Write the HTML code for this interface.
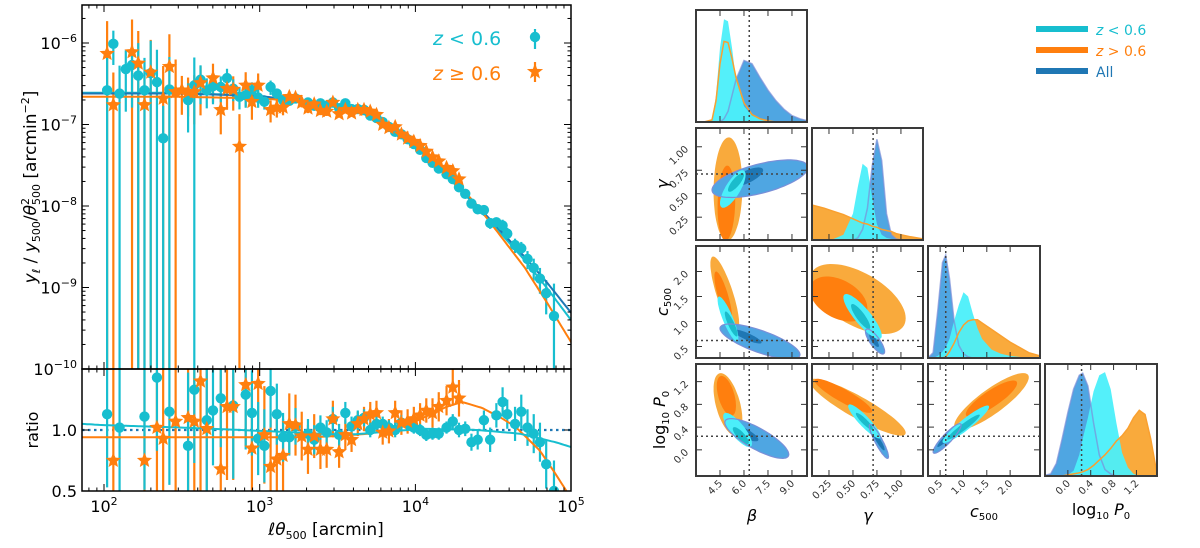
<!DOCTYPE html>
<html><head><meta charset="utf-8"><style>
html,body{margin:0;padding:0;background:#fff;width:1200px;height:548px;overflow:hidden;}
svg{display:block;font-family:"DejaVu Sans","Liberation Sans",sans-serif;overflow:hidden;}
</style></head><body>
<svg id="fig" width="1200" height="548" viewBox="0 0 1200 548" xmlns="http://www.w3.org/2000/svg">
<defs>
<clipPath id="clipMain"><rect x="82" y="5" width="489" height="364"/></clipPath>
<clipPath id="clipRatio"><rect x="82" y="369" width="489" height="122"/></clipPath>
</defs>
<g id="left"></g>
<g id="corner"></g>
</svg>
<script>
// ===== Left chart data =====
const fitLx = [1.86,2.5,3.0,3.3,3.5,3.7,4.0,4.2,4.4,4.7,4.85,5.0];
const fitAll = [-6.62,-6.62,-6.65,-6.72,-6.78,-6.88,-7.26,-7.62,-8.0,-8.62,-8.95,-9.31];
const fitCyan = [-6.61,-6.61,-6.65,-6.73,-6.79,-6.89,-7.27,-7.63,-8.02,-8.66,-9.02,-9.40];
const fitOrange = [-6.66,-6.66,-6.68,-6.72,-6.77,-6.85,-7.20,-7.58,-8.0,-8.75,-9.20,-9.67];

const cyanLx = [2.02,2.06,2.10,2.14,2.18,2.22,2.26,2.30,2.34,2.38,2.42,2.54,2.58,2.62,2.66,2.70,2.75,2.79,2.83,2.87,2.91,2.95,2.99,3.03,3.07,3.11,
3.15,3.19,3.23,3.31,3.35,3.39,3.43,3.47,3.51,3.55,3.59,3.63,3.67,3.71,3.75,3.79,3.83,3.87,3.91,3.95,3.99,4.03,4.07,4.11,4.15,4.20,4.24,4.28,4.32,4.36,4.40,4.44,4.48,4.52,4.56,4.59,4.64,4.68,4.72,4.76,4.80,4.84,4.89];
const cyanLy = [-6.58,-6.01,-6.62,-6.32,-6.27,-6.40,-6.58,-6.37,-6.48,-7.17,-6.57,-6.70,-6.52,-6.45,-6.58,-6.53,-6.54,-6.43,-6.56,-6.66,-6.64,-6.58,-6.67,-6.72,-6.54,-6.62,
-6.70,-6.71,-6.68,-6.73,-6.77,-6.74,-6.77,-6.73,-6.80,-6.74,-6.81,-6.81,-6.82,-6.89,-6.92,-6.97,-7.03,-7.09,-7.12,-7.18,-7.24,-7.31,-7.41,-7.47,-7.54,-7.61,-7.67,-7.77,-7.85,-7.97,-8.04,-8.05,-8.21,-8.20,-8.24,-8.34,-8.48,-8.52,-8.65,-8.76,-8.89,-9.07,-9.35];
const cyanSig = [1.5,0.45,1.2,0.7,0.7,1.5,1.5,1.5,1.5,1.5,1.5,0.6,1.2,0.5,0.4,0.4,0.35,0.3,0.3,0.3,0.3,0.25,0.25,0.2,0.2,0.15,
0.12,0.12,0.1,0.1,0.1,0.1,0.08,0.08,0.08,0.08,0.07,0.07,0.07,0.07,0.07,0.07,0.07,0.07,0.07,0.07,0.07,0.08,0.08,0.08,0.08,0.1,0.1,0.1,0.12,0.12,0.12,0.15,0.15,0.15,0.18,0.18,0.2,0.2,0.25,0.3,0.35,0.45,1.5];

const orangeLx = [2.02,2.06,2.18,2.22,2.26,2.30,2.38,2.42,2.46,2.50,2.54,2.58,2.62,2.70,2.75,2.79,2.83,2.87,2.91,2.95,2.99,3.07,3.11,3.15,
3.19,3.23,3.27,3.31,3.35,3.39,3.43,3.47,3.51,3.55,3.59,3.63,3.67,3.71,3.75,3.79,3.83,3.87,3.91,3.95,3.99,4.03,4.07,4.11,4.15,4.20,4.24,4.28];
const orangeLy = [-6.13,-6.76,-6.11,-6.25,-6.76,-6.36,-6.68,-6.29,-6.60,-6.58,-6.60,-6.60,-6.49,-6.43,-6.82,-6.56,-6.57,-7.27,-6.52,-6.72,-6.52,-6.82,-6.79,-6.79,
-6.66,-6.67,-6.73,-6.80,-6.75,-6.83,-6.84,-6.73,-6.87,-6.82,-6.86,-6.82,-6.82,-6.84,-6.88,-7.00,-7.04,-7.03,-7.12,-7.17,-7.21,-7.26,-7.33,-7.40,-7.45,-7.53,-7.57,-7.67];
const orangeSig = [1.5,1.5,1.5,1.5,1.5,1.5,1.5,1.5,1.5,0.5,0.5,0.6,0.6,0.5,0.5,0.45,0.45,1.5,0.45,0.4,0.4,0.3,0.25,0.2,
0.15,0.15,0.13,0.13,0.12,0.12,0.12,0.1,0.1,0.1,0.1,0.08,0.08,0.08,0.08,0.08,0.08,0.08,0.08,0.08,0.08,0.08,0.1,0.1,0.1,0.1,0.12,0.12];

const rCyanLx = [2.02,2.10,2.26,2.34,2.42,2.54,2.58,2.66,2.70,2.75,2.83,2.91,2.95,2.99,3.03,3.07,3.11,3.15,3.19,3.23,3.31,3.35,3.39,3.43,3.47,3.51,3.55,3.59,3.63,3.67,3.71,3.75,3.79,3.83,3.87,3.91,3.95,3.99,4.03,4.07,4.11,4.15,4.20,4.24,4.28,4.32,4.36,4.40,4.44,4.48,4.52,4.56,4.59,4.64,4.68,4.72,4.76,4.80,4.84,4.89];
const rCyan = [1.13,1.02,1.11,1.43,1.15,0.87,1.33,1.08,1.16,1.26,1.20,1.29,1.14,0.93,0.87,1.32,1.13,0.94,0.94,1.03,0.97,0.92,1.02,0.98,1.09,0.96,1.14,1.03,1.08,1.10,1.00,1.05,1.05,1.02,1.00,1.06,1.05,1.02,1.00,0.96,0.97,0.97,1.02,1.07,1.00,1.01,0.90,0.92,1.08,0.92,1.12,1.23,1.13,1.05,1.15,1.02,0.97,0.90,0.72,0.50];
const rCyanErr = [0.6,0.6,0.6,0.6,0.6,0.6,0.6,0.6,0.45,0.4,0.6,0.45,0.35,0.3,0.3,0.3,0.25,0.2,0.15,0.15,0.12,0.12,0.1,0.1,0.1,0.09,0.09,0.08,0.08,0.07,0.06,0.06,0.06,0.06,0.06,0.06,0.05,0.05,0.05,0.05,0.05,0.05,0.05,0.06,0.06,0.06,0.07,0.08,0.08,0.1,0.1,0.12,0.12,0.14,0.14,0.15,0.16,0.16,0.2,0.25];

const rOrangeLx = [2.06,2.26,2.34,2.38,2.46,2.54,2.58,2.62,2.66,2.75,2.79,2.83,2.91,2.95,2.99,3.03,3.07,3.11,3.15,3.19,3.23,3.27,3.31,3.35,3.39,3.43,3.47,3.51,3.55,3.59,3.63,3.67,3.71,3.75,3.79,3.83,3.87,3.91,3.95,3.99,4.03,4.07,4.11,4.15,4.20,4.24,4.28];
const rOrange = [0.75,0.75,1.02,0.93,1.07,1.10,1.07,1.40,1.01,0.68,1.19,1.19,1.37,0.85,1.38,0.96,0.70,0.76,0.79,1.05,1.04,0.95,0.84,0.95,0.84,0.84,1.09,0.82,0.96,0.92,1.05,1.09,1.13,1.14,0.98,0.99,1.14,1.06,1.07,1.09,1.12,1.16,1.14,1.19,1.24,1.35,1.26];
const rOrangeErr = [1,1,1,1,1,1,1,1,1,1,0.6,0.6,0.5,0.5,0.45,0.4,0.4,0.35,0.3,0.25,0.25,0.2,0.2,0.18,0.16,0.15,0.15,0.13,0.12,0.1,0.1,0.1,0.1,0.1,0.1,0.1,0.1,0.1,0.1,0.1,0.1,0.1,0.12,0.12,0.12,0.15,0.15];

const rFitCyanLx = [1.86,2.0,2.5,3.06,3.56,4.05,4.4,4.67,4.8,4.9,5.0];
const rFitCyan = [1.05,1.04,1.02,0.99,0.96,1.01,1.0,0.97,0.93,0.9,0.86];
const rFitOrangeLx = [1.86,2.5,3.0,3.3,3.5,3.7,3.9,4.0,4.1,4.2,4.3,4.43,4.55,4.64,4.72,4.8,4.9,4.97,5.0];
const rFitOrange = [0.94,0.94,0.94,0.94,0.95,0.97,1.02,1.07,1.13,1.19,1.23,1.18,1.1,1.03,0.93,0.83,0.64,0.5,0.45];

const xTickExp = [2,3,4,5];
const yTickExp = [-6,-7,-8,-9,-10];
const rTicks = [0.5,1.0];

// ===== Corner data =====
const betaGrid = [3.0,3.5,4.0,4.25,4.5,4.75,5.0,5.25,5.5,6.0,6.5,7.0,7.5,8.0,8.5,9.0,9.5,10];
const betaCyan = [0,0,0.02,0.25,0.7,0.97,0.95,0.7,0.4,0.15,0.06,0.03,0.01,0,0,0,0,0];
const betaOrange = [0,0,0.02,0.2,0.55,0.76,0.75,0.6,0.42,0.18,0.07,0.03,0.01,0,0,0,0,0];
const betaBlue = [0,0,0,0,0,0.03,0.1,0.25,0.4,0.58,0.55,0.42,0.3,0.2,0.12,0.06,0.03,0.01];
const gammaGrid = [0.07,0.2,0.3,0.4,0.5,0.55,0.6,0.65,0.7,0.75,0.8,0.85,0.9,0.95,1.0,1.1,1.23];
const gammaCyan = [0,0,0.01,0.05,0.25,0.5,0.72,0.68,0.4,0.15,0.05,0.02,0.01,0,0,0,0];
const gammaBlue = [0,0,0,0,0,0.02,0.1,0.3,0.7,0.95,0.75,0.25,0.05,0.01,0,0,0];
const gammaOrange = [0.33,0.3,0.27,0.24,0.2,0.18,0.16,0.15,0.13,0.12,0.1,0.09,0.08,0.06,0.05,0.03,0.01];
const cGrid = [0.24,0.35,0.45,0.55,0.62,0.7,0.8,0.9,1.0,1.1,1.2,1.3,1.4,1.6,1.8,2.0,2.2,2.4,2.64];
const cBlue = [0,0.05,0.45,0.9,0.97,0.75,0.35,0.12,0.04,0.01,0,0,0,0,0,0,0,0,0];
const cCyan = [0,0,0.02,0.06,0.1,0.18,0.35,0.5,0.62,0.58,0.42,0.28,0.18,0.08,0.04,0.02,0.01,0,0];
const cOrange = [0,0,0,0,0.01,0.06,0.14,0.24,0.31,0.35,0.36,0.36,0.33,0.27,0.21,0.15,0.1,0.05,0.02];
const pGrid = [-0.46,-0.3,-0.2,-0.1,0,0.1,0.2,0.26,0.35,0.45,0.55,0.65,0.75,0.85,0.95,1.05,1.15,1.25,1.35,1.45,1.56];
const pBlue = [0,0.02,0.12,0.35,0.6,0.82,0.95,0.97,0.85,0.5,0.2,0.06,0.02,0,0,0,0,0,0,0,0];
const pCyan = [0,0,0,0,0.01,0.05,0.2,0.35,0.55,0.8,0.95,0.98,0.82,0.5,0.22,0.08,0.02,0,0,0,0];
const pOrange = [0,0,0,0,0.01,0.02,0.03,0.04,0.06,0.1,0.15,0.2,0.26,0.33,0.38,0.45,0.55,0.62,0.58,0.35,0.02];

// contour params: [cx, sx, cy, sy, rho]
const ctBG = {orange:[[5.0,0.9,0.55,0.55,0.05],[4.9,0.55,0.4,0.4,0.1]], blue:[[7.0,3.0,0.66,0.2,0.6],[6.2,1.0,0.68,0.1,0.7]], cyan:[[5.3,0.8,0.55,0.2,0.75],[5.5,0.5,0.62,0.1,0.8]]};
const ctBC = {orange:[[4.8,0.9,1.55,0.75,-0.8],[4.7,0.55,1.5,0.5,-0.8]], blue:[[7.0,2.5,0.6,0.35,-0.75],[6.2,0.9,0.7,0.14,-0.85]], cyan:[[5.0,0.65,1.05,0.45,-0.85],[5.2,0.4,0.95,0.25,-0.85]]};
const ctBP = {orange:[[5.0,0.9,0.8,0.55,-0.5],[4.9,0.6,0.95,0.35,-0.5]], blue:[[6.8,2.0,0.2,0.35,-0.8],[6.0,0.9,0.3,0.15,-0.8]], cyan:[[5.6,0.9,0.35,0.3,-0.8],[5.8,0.5,0.25,0.15,-0.8]]};
const ctGC = {orange:[[0.55,0.5,1.45,0.7,-0.55],[0.35,0.3,1.45,0.45,-0.4]], blue:[[0.73,0.1,0.6,0.25,-0.8],[0.72,0.05,0.62,0.13,-0.8]], cyan:[[0.6,0.2,1.1,0.45,-0.85],[0.58,0.1,1.1,0.25,-0.85]]};
const ctGP = {orange:[[0.55,0.5,0.75,0.5,-0.9],[0.4,0.3,0.95,0.3,-0.9]], blue:[[0.77,0.1,0.15,0.3,-0.9],[0.77,0.06,0.15,0.16,-0.9]], cyan:[[0.62,0.17,0.5,0.3,-0.9],[0.62,0.09,0.5,0.15,-0.9]]};
const ctCP = {orange:[[1.6,0.8,0.85,0.5,0.85],[1.6,0.55,0.9,0.32,0.85]], blue:[[0.65,0.3,0.2,0.26,0.9],[0.62,0.18,0.2,0.15,0.93]], cyan:[[1.05,0.5,0.45,0.33,0.93],[1.0,0.35,0.4,0.22,0.95]]};

const truthBeta = 6.33, truthGamma = 0.71, truthC = 0.62, truthP = 0.24;
const betaTicks = [4.5,6.0,7.5,9.0];
const gammaTicks = [0.25,0.5,0.75,1.0];
const cTicks = [0.5,1.0,1.5,2.0];
const pTicks = [0.0,0.4,0.8,1.2];

// ===== helpers =====
const NS = "http://www.w3.org/2000/svg";
function mk(tag, attrs, parent){ const e=document.createElementNS(NS,tag); for(const k in attrs) e.setAttribute(k,attrs[k]); parent.appendChild(e); return e; }
const CY="#17becf", OR="#ff7f0e", BL="#1f77b4";
const L=document.getElementById('left');

const X = lx => 104 + (lx-2)*155.7;
const Ym = ly => 43 + (-6-ly)*81.5;
const Yr = r => 430 - (r-1)*122;
function interp(xs, ys, x){ if(x<=xs[0]) return ys[0]; for(let i=1;i<xs.length;i++){ if(x<=xs[i]){ const t=(x-xs[i-1])/(xs[i]-xs[i-1]); return ys[i-1]+t*(ys[i]-ys[i-1]); } } return ys[ys.length-1]; }
function smoothPath(xs, ys, fx, fy){ let d=""; const x0=xs[0], x1=xs[xs.length-1]; for(let k=0;k<=200;k++){ const x=x0+(x1-x0)*k/200; d+=(k?"L":"M")+fx(x).toFixed(1)+","+fy(interp(xs,ys,x)).toFixed(1); } return d; }

function star(cx,cy,r,parent){ let pts=[]; for(let i=0;i<10;i++){ const a=-Math.PI/2+i*Math.PI/5; const rr=i%2?r*0.45:r; pts.push((cx+rr*Math.cos(a)).toFixed(1)+","+(cy+rr*Math.sin(a)).toFixed(1)); } return mk('polygon',{points:pts.join(' '),fill:OR},parent); }

const gMain = mk('g',{'clip-path':'url(#clipMain)'},L);
 
function mainErr(lxs,lys,sig,col,name){
  for(let i=0;i<lxs.length;i++){
    const v=Math.pow(10,lys[i]); const s=sig[i]||0.2;
    const top=Math.log10(v*(1+s)); const bot = s>=1? -10 : Math.log10(v*(1-s));
    const e=mk('line',{x1:X(lxs[i]),x2:X(lxs[i]),y1:Ym(top),y2:Ym(bot),stroke:col,'stroke-width':2.2},gMain);
    
    
  }
}
mainErr(orangeLx,orangeLy,orangeSig,OR,'error-bar-high-z');
mainErr(cyanLx,cyanLy,cyanSig,CY,'error-bar-low-z');
[[fitCyan,CY,'fit-low-z'],[fitAll,BL,'fit-all'],[fitOrange,OR,'fit-high-z']].forEach(([ys,c,n])=>{
  const p=mk('path',{d:smoothPath(fitLx,ys,X,Ym),fill:'none',stroke:c,'stroke-width':2},gMain);
  
  
});
for(let i=0;i<cyanLx.length;i++){ const c=mk('circle',{cx:X(cyanLx[i]),cy:Ym(cyanLy[i]),r:5.2,fill:CY},gMain);
  
   }
for(let i=0;i<orangeLx.length;i++){ const s=star(X(orangeLx[i]),Ym(orangeLy[i]),8,gMain);
  
   }

const gR = mk('g',{'clip-path':'url(#clipRatio)'},L);
 
mk('line',{x1:82,x2:571,y1:Yr(1),y2:Yr(1),stroke:BL,'stroke-width':2.2,'stroke-dasharray':'2.5,3.5'},gR);
function ratioErr(lxs,rs,err,col,name){
  for(let i=0;i<lxs.length;i++){ const e=err[i]||0.1;
    const l=mk('line',{x1:X(lxs[i]),x2:X(lxs[i]),y1:Yr(Math.min(rs[i]+e,1.52)),y2:Yr(Math.max(rs[i]-e,0.48)),stroke:col,'stroke-width':2.2},gR);
    
     }
}
ratioErr(rOrangeLx,rOrange,rOrangeErr,OR,'ratio-error-high-z');
ratioErr(rCyanLx,rCyan,rCyanErr,CY,'ratio-error-low-z');
let rp=mk('path',{d:smoothPath(rFitOrangeLx,rFitOrange,X,Yr),fill:'none',stroke:OR,'stroke-width':2},gR);
 
rp=mk('path',{d:smoothPath(rFitCyanLx,rFitCyan,X,Yr),fill:'none',stroke:CY,'stroke-width':2},gR);
 
for(let i=0;i<rCyanLx.length;i++){ const c=mk('circle',{cx:X(rCyanLx[i]),cy:Yr(rCyan[i]),r:5.2,fill:CY},gR);
  
   }
for(let i=0;i<rOrangeLx.length;i++){ const s=star(X(rOrangeLx[i]),Yr(rOrange[i]),8,gR);
  
   }

const fr1=mk('rect',{x:82,y:5,width:489,height:364,fill:'none',stroke:'#000','stroke-width':1.5},L);
 
const fr2=mk('rect',{x:82,y:369,width:489,height:122,fill:'none',stroke:'#000','stroke-width':1.5},L);
 
const tk=mk('g',{stroke:'#000','stroke-width':1},L);
for(let d=1; d<=5; d++){ for(let m=1;m<10;m++){ const lx=d+Math.log10(m); const x=X(lx); if(x<82||x>571) continue; const len=m==1?7:3.5;
  [[5,5+len],[369,369-len],[369,369+len],[491,491-len]].forEach(([a,b])=>mk('line',{x1:x,x2:x,y1:a,y2:b},tk)); } }
for(let d=-10; d<=-6; d++){ for(let m=1;m<10;m++){ const ly=d+Math.log10(m); const y=Ym(ly); if(y<5||y>369) continue; const len=m==1?7:3.5;
  mk('line',{x1:82,x2:82+len,y1:y,y2:y},tk); mk('line',{x1:571,x2:571-len,y1:y,y2:y},tk);} }
rTicks.concat([1.5]).forEach(r=>{ mk('line',{x1:82,x2:89,y1:Yr(r),y2:Yr(r)},tk); mk('line',{x1:571,x2:564,y1:Yr(r),y2:Yr(r)},tk); });
xTickExp.forEach(e=>{ const t=mk('text',{x:X(e),y:512,'text-anchor':'middle','font-size':16},L); t.innerHTML='10<tspan dy="-7" font-size="11">'+e+'</tspan>';
    });
yTickExp.forEach(e=>{ const t=mk('text',{x:77,y:Ym(e)+6,'text-anchor':'end','font-size':16},L); t.innerHTML='10<tspan dy="-7" font-size="11">−'+(-e)+'</tspan>';
    });
rTicks.forEach(r=>{ const t=mk('text',{x:77,y:Yr(r)+6,'text-anchor':'end','font-size':16},L); t.textContent=r.toFixed(1);
    });
</script>
<script>
(function(){
const L=document.getElementById('left');
L.insertAdjacentHTML('beforeend',
 '<text transform="translate(36,187) rotate(-90)" text-anchor="middle" font-size="17"><tspan font-style="italic">y</tspan><tspan font-size="11" dy="4" font-style="italic">ℓ</tspan><tspan dy="-4"> / </tspan><tspan font-style="italic">y</tspan><tspan font-size="11" dy="4">500</tspan><tspan dy="-4">/</tspan><tspan font-style="italic">θ</tspan><tspan font-size="11" dy="-7">2</tspan><tspan font-size="11" dx="-7" dy="11">500</tspan><tspan dy="-4"> [arcmin</tspan><tspan font-size="11" dy="-7">−2</tspan><tspan dy="7">]</tspan></text>'+
 '<text transform="translate(38,430) rotate(-90)" text-anchor="middle" font-size="16">ratio</text>'+
 '<text x="326" y="535" text-anchor="middle" font-size="17"><tspan font-style="italic">ℓθ</tspan><tspan font-size="11" dy="4">500</tspan><tspan dy="-4"> [arcmin]</tspan></text>'+
 '<g>'+
 '<text x="433" y="45" font-size="19" fill="#17becf"><tspan font-style="italic">z</tspan> &lt; 0.6</text>'+
 '<line x1="535" x2="535" y1="29" y2="49" stroke="#17becf" stroke-width="2.2"/><circle cx="535" cy="37" r="5.2" fill="#17becf"/>'+
 '<text x="433" y="80" font-size="19" fill="#ff7f0e"><tspan font-style="italic">z</tspan> ≥ 0.6</text>'+
 '<line x1="535" x2="535" y1="62" y2="82" stroke="#ff7f0e" stroke-width="2.2"/><polygon points="535,63 537.1,68.9 543.1,69.1 538.4,72.8 540,78.5 535,75.2 530,78.5 531.6,72.8 526.9,69.1 532.9,68.9" fill="#ff7f0e"/>'+
 '</g>');
})();
</script>
<script>
(function(){
const C=document.getElementById('corner'); const NS="http://www.w3.org/2000/svg";
function mk(tag, attrs, parent){ const e=document.createElementNS(NS,tag); for(const k in attrs) e.setAttribute(k,attrs[k]); parent.appendChild(e); return e; }
const cols=[[696,807],[812,923],[928,1040],[1045,1157]];
const rows=[[10,122],[128,240],[246,358],[364,476]];
const rng=[[3.0,9.94],[0.073,1.23],[0.24,2.64],[-0.40,1.56]];
const rngY=[null,[0.007,1.2],[0.27,2.51],[-0.46,1.51]];
const fx=(i,v)=>cols[i][0]+(v-rng[i][0])/(rng[i][1]-rng[i][0])*(cols[i][1]-cols[i][0]);
const fy=(j,v)=>rows[j][1]-(v-rngY[j][0])/(rngY[j][1]-rngY[j][0])*(rows[j][1]-rows[j][0]);
const LC={cyan:['#4beffa','#1bbccc'],orange:['#f9aa3c','#ff7f0e'],blue:['#4fa6e2','#1f77b4']};
const defs=document.querySelector('defs');
for(let i=0;i<4;i++) for(let j=0;j<4;j++){ const cp=mk('clipPath',{id:'cp'+i+j},defs); mk('rect',{x:cols[i][0],y:rows[j][0],width:cols[i][1]-cols[i][0],height:rows[j][1]-rows[j][0]},cp); }

const marg=[[betaGrid,betaBlue,betaCyan,betaOrange],[gammaGrid,gammaBlue,gammaCyan,gammaOrange],[cGrid,cBlue,cCyan,cOrange],[pGrid,pBlue,pCyan,pOrange]];
const truths=[truthBeta,truthGamma,truthC,truthP];
function margPath(i,g,v,close){ const b=rows[i][1], h=rows[i][1]-rows[i][0]-6; let d=''; g.forEach((x,k)=>{ d+=(k?'L':'M')+fx(i,x).toFixed(1)+','+(b-v[k]*h).toFixed(1); }); if(close) d+='L'+fx(i,g[g.length-1])+','+b+'L'+fx(i,g[0])+','+b+'Z'; return d; }
for(let i=0;i<4;i++){
  const [g,b,c,o]=marg[i];
  const grp=mk('g',{'clip-path':'url(#cp'+i+i+')'},C);
   
  let p;
  if(i>0){ p=mk('path',{d:margPath(i,g,o,true),fill:LC.orange[0]},grp);   }
  p=mk('path',{d:margPath(i,g,b,true),fill:LC.blue[0]},grp);  
  p=mk('path',{d:margPath(i,g,c,true),fill:LC.cyan[0],'fill-opacity':0.95},grp);  
  p=mk('path',{d:margPath(i,g,b,false),fill:'none',stroke:'#7a8fd8','stroke-width':1.5,'stroke-opacity':0.7},grp);  
  p=mk('path',{d:margPath(i,g,o,false),fill:'none',stroke:'#f9a030','stroke-width':1.5},grp);  
  const t=mk('line',{x1:fx(i,truths[i]),x2:fx(i,truths[i]),y1:rows[i][0],y2:rows[i][1],stroke:'#444','stroke-width':1.5,'stroke-dasharray':'2,3'},grp);
   
}
const pairs=[[0,1,ctBG],[0,2,ctBC],[0,3,ctBP],[1,2,ctGC],[1,3,ctGP],[2,3,ctCP]];
function ell(i,j,p){ const [cx,sx,cy,sy,rho]=p; let d=''; for(let k=0;k<=72;k++){ const t=k/72*2*Math.PI; const x=cx+sx*Math.cos(t); const y=cy+sy*(rho*Math.cos(t)+Math.sqrt(1-rho*rho)*Math.sin(t)); d+=(k?'L':'M')+fx(i,x).toFixed(1)+','+fy(j,y).toFixed(1);} return d+'Z'; }
pairs.forEach(([i,j,ct])=>{
  const grp=mk('g',{'clip-path':'url(#cp'+i+j+')'},C);
   
  ['orange','blue','cyan'].forEach(k=>{
    let p=mk('path',{d:ell(i,j,ct[k][0]),fill:LC[k][0]},grp);  
    p=mk('path',{d:ell(i,j,ct[k][1]),fill:LC[k][1]},grp);  
  });
  let p=mk('path',{d:ell(i,j,ct.blue[0]),fill:'none',stroke:'#7a8fd8','stroke-width':1.2},grp);
   
  mk('line',{x1:fx(i,truths[i]),x2:fx(i,truths[i]),y1:rows[j][0],y2:rows[j][1],stroke:'#444','stroke-width':1.5,'stroke-dasharray':'2,3'},grp);
  mk('line',{x1:cols[i][0],x2:cols[i][1],y1:fy(j,truths[j]),y2:fy(j,truths[j]),stroke:'#444','stroke-width':1.5,'stroke-dasharray':'2,3'},grp);
});
const tickSets=[betaTicks,gammaTicks,cTicks,pTicks];
for(let j=0;j<4;j++) for(let i=0;i<=j;i++){
  const r=mk('rect',{x:cols[i][0],y:rows[j][0],width:cols[i][1]-cols[i][0],height:rows[j][1]-rows[j][0],fill:'none',stroke:'#3a3a3a','stroke-width':2},C);
   
  tickSets[i].forEach(v=>{ const x=fx(i,v); mk('line',{x1:x,x2:x,y1:rows[j][1],y2:rows[j][1]-6,stroke:'#333'},C); mk('line',{x1:x,x2:x,y1:rows[j][0],y2:rows[j][0]+6,stroke:'#333'},C); });
  if(j>0 && i<j) tickSets[j].forEach(v=>{ const y=fy(j,v); mk('line',{x1:cols[i][0],x2:cols[i][0]+6,y1:y,y2:y,stroke:'#333'},C); mk('line',{x1:cols[i][1],x2:cols[i][1]-6,y1:y,y2:y,stroke:'#333'},C); });
}
const fmt=[v=>v.toFixed(1),v=>v.toFixed(2),v=>v.toFixed(1),v=>v.toFixed(1)];
for(let i=0;i<4;i++) tickSets[i].forEach(v=>{ const x=fx(i,v); const t=mk('text',{x:x+3,y:484,'text-anchor':'end','font-size':10,fill:'#333',transform:'rotate(-45 '+(x+3)+' 484)'},C); t.textContent=fmt[i](v);
    });
for(let j=1;j<4;j++) tickSets[j].forEach(v=>{ const y=fy(j,v); const t=mk('text',{x:689,y:y+3,'text-anchor':'end','font-size':10,fill:'#333',transform:'rotate(-45 689 '+(y+3)+')'},C); t.textContent=fmt[j](v);
    });
C.insertAdjacentHTML('beforeend',
 '<text x="752" y="521" text-anchor="middle" font-size="16" font-style="italic">β</text>'+
 '<text x="868" y="521" text-anchor="middle" font-size="16" font-style="italic">γ</text>'+
 '<text x="984" y="517" text-anchor="middle" font-size="16"><tspan font-style="italic">c</tspan><tspan font-size="10" dy="3">500</tspan></text>'+
 '<text x="1101" y="515" text-anchor="middle" font-size="16">log<tspan font-size="10" dy="4">10</tspan><tspan dy="-4" font-style="italic"> P</tspan><tspan font-size="10" dy="4">0</tspan></text>'+
 '<text transform="translate(668,184) rotate(-90)" text-anchor="middle" font-size="16" font-style="italic">γ</text>'+
 '<text transform="translate(668,302) rotate(-90)" text-anchor="middle" font-size="16"><tspan font-style="italic">c</tspan><tspan font-size="10" dy="3">500</tspan></text>'+
 '<text transform="translate(665,420) rotate(-90)" text-anchor="middle" font-size="16">log<tspan font-size="10" dy="4">10</tspan><tspan dy="-4" font-style="italic"> P</tspan><tspan font-size="10" dy="4">0</tspan></text>'+
 '<g>'+
 '<rect x="1036" y="26" width="52" height="6" fill="#17becf"/>'+
 '<text x="1096" y="35" font-size="14" fill="#17becf"><tspan font-style="italic">z</tspan> &lt; 0.6</text>'+
 '<rect x="1036" y="47" width="52" height="6" fill="#ff7f0e"/>'+
 '<text x="1096" y="56" font-size="14" fill="#ff7f0e"><tspan font-style="italic">z</tspan> &gt; 0.6</text>'+
 '<rect x="1036" y="68" width="52" height="6" fill="#1f77b4"/>'+
 '<text x="1096" y="77" font-size="14" fill="#1f77b4">All</text>'+
 '</g>');
})();
</script>
</body></html>
